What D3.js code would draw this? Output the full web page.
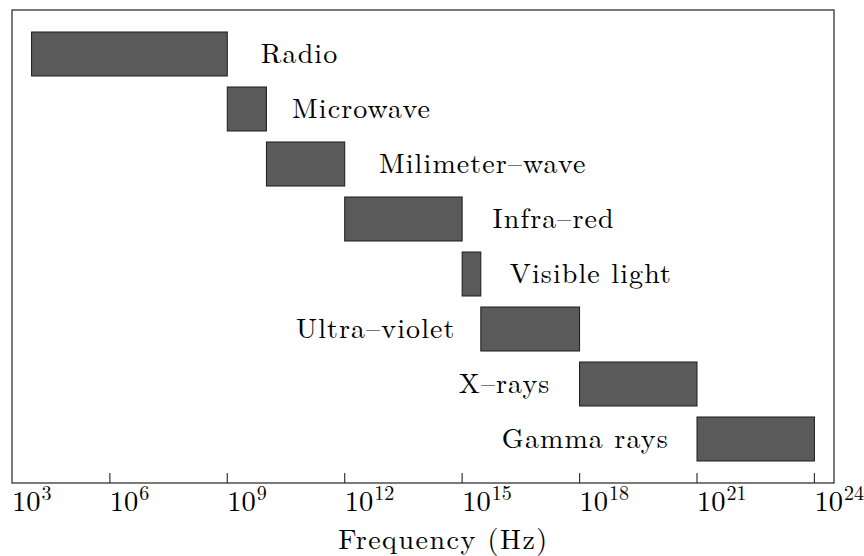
<!DOCTYPE html>
<html><head><meta charset="utf-8">
<script src="https://cdn.jsdelivr.net/npm/d3@7"></script>
<style>
html,body{margin:0;padding:0;background:#fff;}
</style></head>
<body><svg id="chart" width="864" height="556"></svg>
<script>
// ---- data ----
const categories = ["Radio","Microwave","Milimeter\u2013wave","Infra\u2013red","Visible light","Ultra\u2013violet","X\u2013rays","Gamma rays"];
const startHz = [1e4, 1e9, 1e10, 1e12, 1e15, 3e15, 1e18, 1e21];
const endHz   = [1e9, 1e10, 1e12, 1e15, 3e15, 1e18, 1e21, 1e24];
// label anchor positions (Hz) and side of bar
const labelHz   = [7.2e9, 4.5e10, 7.5e12, 6e15, 1.65e16, 6.8e14, 1.8e17, 1.9e20];
const labelSide = ["right","right","right","right","right","left","left","left"];
const tickExponents = [3, 6, 9, 12, 15, 18, 21, 24];
const xDomainHz = [Math.pow(10,3.5), Math.pow(10,24.5)];
const axisTitle = "Frequency (Hz)";

// ---- layout ----
const L = 12, R = 834, T = 10, B = 483;
const FONT = "'Latin Modern Roman','CMU Serif','Liberation Serif','DejaVu Serif','Noto Serif','Tinos','Times New Roman','Nimbus Roman','FreeSerif','Noto Serif CJK SC','Noto Serif CJK JP',serif";
const svg = d3.select("#chart");
const x = d3.scaleLog().domain(xDomainHz).range([L, R]);
const y = d3.scaleLinear().domain([-0.8, categories.length - 0.2]).range([T, B]);
const barH = y(0.4) - y(-0.4);

const data = categories.map((c,i)=>({c, s:startHz[i], e:endHz[i], lx:labelHz[i], side:labelSide[i], i}));

svg.append("g").selectAll("rect").data(data).join("rect")
  .attr("x", d=>x(d.s)).attr("y", d=>y(d.i)-barH/2)
  .attr("width", d=>x(d.e)-x(d.s)).attr("height", barH)
  .attr("fill","#5a5a5a").attr("stroke","#1a1a1a").attr("stroke-width",1);

svg.append("g").selectAll("text").data(data).join("text")
  .attr("x", d=>x(d.lx)).attr("y", d=>y(d.i)+8.5)
  .attr("text-anchor", d=>d.side==="right"?"start":"end")
  .style("font-family", FONT)
  .style("font-size","28px").style("letter-spacing","1.1px")
  .text(d=>d.c);

// spines
svg.append("rect").attr("x",L).attr("y",T).attr("width",R-L).attr("height",B-T)
  .attr("fill","none").attr("stroke","#333").attr("stroke-width",1.3);

// ticks (inward) except at the left spine
const ticks = tickExponents.map(e=>({e, v:Math.pow(10,e)}));
svg.append("g").selectAll("line").data(ticks.filter(t=>x(t.v)>L+2)).join("line")
  .attr("x1",d=>x(d.v)).attr("x2",d=>x(d.v)).attr("y1",B).attr("y2",B-10)
  .attr("stroke","#333").attr("stroke-width",1.2);

// tick labels: left aligned at tick (first at left spine)
const tl = svg.append("g").selectAll("text").data(ticks).join("text")
  .attr("x", d=>Math.max(L, x(d.v))).attr("y", 510.5)
  .style("font-family", FONT)
  .style("font-size","28.5px");
tl.append("tspan").text("10");
tl.append("tspan").attr("dx",1).attr("dy",-11).style("font-size","20px").text(d=>d.e);

svg.append("text").attr("x", 443.5).attr("y", 549).attr("text-anchor","middle")
  .style("font-family", FONT)
  .style("font-size","28px").style("letter-spacing","1.5px").text(axisTitle);
</script></body></html>
